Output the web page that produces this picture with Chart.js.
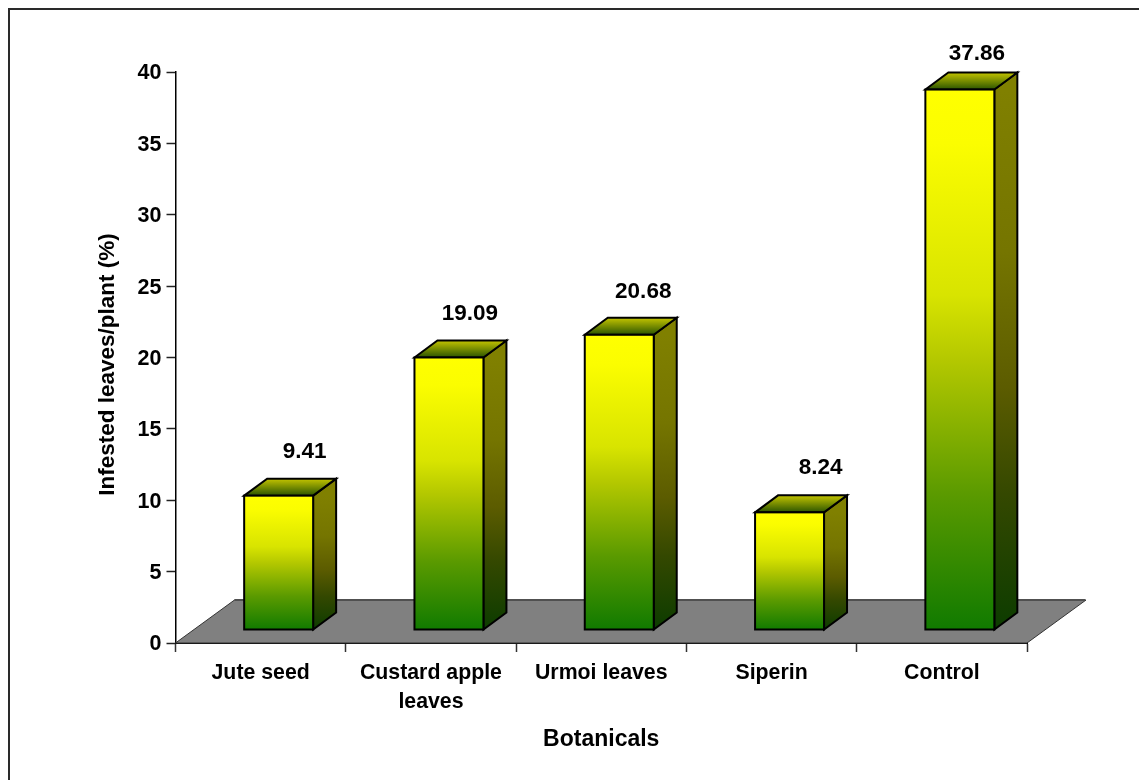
<!DOCTYPE html>
<html>
<head>
<meta charset="utf-8">
<title>Infested leaves</title>
<script src="https://cdn.jsdelivr.net/npm/chart.js@4/dist/chart.umd.min.js"></script>
<style>
    html, body { margin: 0; padding: 0; background: #fff; overflow: hidden; }
    #wrap { position: relative; width: 1139px; height: 780px; overflow: hidden; }
    #frame { position: absolute; left: 8px; top: 8px; width: 1200px; height: 900px; border: 2px solid #2a2a2a; }
    canvas { position: absolute; left: 0; top: 0; }
</style>
</head>
<body>
<div id="wrap">
    <div id="frame"></div>
    <canvas id="chart" width="1139" height="780"></canvas>
</div>
<script>
const categories = [['Jute seed'], ['Custard apple', 'leaves'], ['Urmoi leaves'], ['Siperin'], ['Control']];
const values = [9.41, 19.09, 20.68, 8.24, 37.86];
const yTicks = [0, 5, 10, 15, 20, 25, 30, 35, 40];

// hand-placed value labels sit a little off the bar centre
const labelShiftX = [26, 21, 24, 31, 17];
const labelShiftY = [-27, -27, -26, -28, -19];

const FONT = '"Liberation Sans", Arial, sans-serif';

// floor depth and bar depth of the fake 3D look
const floorDx = 59, floorDy = -43;
const barDx = 23, barDy = -17;
const frontDx = (floorDx - barDx) / 2;
const frontDy = (floorDy - barDy) / 2;

// gradient stops for each face of a box, top to bottom
const frontStops = [[0, '#ffff00'], [0.1, '#fbfd00'], [0.38, '#d8e400'], [0.5, '#b4c800'], [0.75, '#5a9a00'], [1, '#107a00']];
const sideStops = [[0, '#808000'], [0.3, '#757500'], [0.55, '#5c5c00'], [0.75, '#344800'], [1, '#0c3c00']];
const topStops = [[0, '#c4c400'], [1, '#2a5400']];

function vGradient(ctx, y0, y1, stops) {
    const g = ctx.createLinearGradient(0, y0, 0, y1);
    stops.forEach(s => g.addColorStop(s[0], s[1]));
    return g;
}

function frontFill(context) {
    const chart = context.chart;
    const yScale = chart.scales.y;
    if (!yScale || context.raw === undefined) return '#ffff00';
    const top = yScale.getPixelForValue(context.raw);
    const base = yScale.getPixelForValue(0);
    if (!isFinite(top) || !isFinite(base)) return '#ffff00';
    return vGradient(chart.ctx, top, base, frontStops);
}

const floorPlugin = {
    id: 'floor',
    beforeDatasetsDraw(chart) {
        const { ctx, chartArea: a } = chart;
        ctx.save();
        ctx.beginPath();
        ctx.moveTo(a.left, a.bottom);
        ctx.lineTo(a.left + floorDx, a.bottom + floorDy);
        ctx.lineTo(a.right + floorDx, a.bottom + floorDy);
        ctx.lineTo(a.right, a.bottom);
        ctx.closePath();
        ctx.fillStyle = '#808080';
        ctx.fill();
        ctx.strokeStyle = '#333';
        ctx.lineWidth = 1;
        ctx.stroke();
        ctx.beginPath();
        ctx.moveTo(a.left + floorDx, a.bottom + floorDy);
        ctx.lineTo(a.right + floorDx - 1, a.bottom + floorDy);
        ctx.strokeStyle = '#505050';
        ctx.lineWidth = 2;
        ctx.stroke();
        ctx.restore();
    }
};

const boxPlugin = {
    id: 'box',
    // bars are shifted onto the floor, side and top faces go in behind them
    beforeDatasetDraw(chart, args) {
        const ctx = chart.ctx;
        ctx.save();
        ctx.translate(frontDx, frontDy);
        ctx.lineJoin = 'miter';
        ctx.strokeStyle = '#000';
        ctx.lineWidth = 2;
        args.meta.data.forEach(bar => {
            const right = bar.x + bar.width / 2;
            const left = bar.x - bar.width / 2;

            ctx.beginPath();
            ctx.moveTo(right, bar.y);
            ctx.lineTo(right + barDx, bar.y + barDy);
            ctx.lineTo(right + barDx, bar.base + barDy);
            ctx.lineTo(right, bar.base);
            ctx.closePath();
            ctx.fillStyle = vGradient(ctx, bar.y, bar.base, sideStops);
            ctx.fill();
            ctx.stroke();

            ctx.beginPath();
            ctx.moveTo(left, bar.y);
            ctx.lineTo(left + barDx, bar.y + barDy);
            ctx.lineTo(right + barDx, bar.y + barDy);
            ctx.lineTo(right, bar.y);
            ctx.closePath();
            ctx.fillStyle = vGradient(ctx, bar.y + barDy, bar.y, topStops);
            ctx.fill();
            ctx.stroke();
        });
    },
    // outline the front on the bar edge, the library would inset it
    afterDatasetDraw(chart, args) {
        const ctx = chart.ctx;
        args.meta.data.forEach(bar => {
            ctx.strokeRect(bar.x - bar.width / 2, bar.y, bar.width, bar.base - bar.y);
        });
        ctx.restore();
    }
};

const textPlugin = {
    id: 'texts',
    afterDraw(chart) {
        const { ctx, chartArea: a } = chart;
        const bars = chart.getDatasetMeta(0).data;
        ctx.save();
        ctx.fillStyle = '#000';
        ctx.textAlign = 'center';
        ctx.textBaseline = 'middle';
        ctx.font = 'bold 22.5px ' + FONT;
        bars.forEach((bar, i) => {
            const topY = bar.y + frontDy + barDy;
            ctx.fillText(values[i].toFixed(2), bar.x + frontDx + labelShiftX[i], topY + labelShiftY[i]);
        });
        // y title sits a bit below the axis middle
        ctx.translate(108, (a.top + a.bottom) / 2 + 7);
        ctx.rotate(-Math.PI / 2);
        ctx.fillText('Infested leaves/plant (%)', 0, 0);
        ctx.restore();
    }
};

new Chart(document.getElementById('chart').getContext('2d'), {
    type: 'bar',
    data: {
        labels: categories,
        datasets: [{
            data: values,
            backgroundColor: frontFill,
            borderWidth: 0,
            barPercentage: 0.405,
            categoryPercentage: 1,
            clip: false
        }]
    },
    options: {
        responsive: false,
        animation: false,
        layout: { padding: { top: 72, right: 112, left: 0, bottom: 0 } },
        plugins: { legend: { display: false }, tooltip: { enabled: false } },
        scales: {
            x: {
                afterFit(scale) { scale.height = 137; },
                grid: { drawOnChartArea: false, color: '#333', tickLength: 9, tickWidth: 1.5 },
                border: { color: '#000', width: 2 },
                ticks: {
                    color: '#000',
                    font: { family: FONT, size: 21.3, weight: 'bold', lineHeight: 1.36 },
                    maxRotation: 0,
                    autoSkip: false,
                    padding: 7
                },
                title: {
                    display: true,
                    text: 'Botanicals',
                    color: '#000',
                    font: { family: FONT, size: 23, weight: 'bold' },
                    padding: { top: 16, bottom: 27 }
                }
            },
            y: {
                min: 0,
                max: 40,
                afterFit(scale) { scale.width = 175.5; },
                afterBuildTicks(scale) { scale.ticks = yTicks.map(value => ({ value })); },
                grid: { drawOnChartArea: false, color: '#222', tickLength: 9, tickWidth: 1.5 },
                border: { color: '#000', width: 1.5 },
                ticks: {
                    color: '#000',
                    font: { family: FONT, size: 21.5, weight: 'bold' },
                    padding: 5,
                    labelOffset: 1.5
                }
            }
        }
    },
    plugins: [floorPlugin, boxPlugin, textPlugin]
});
</script>
</body>
</html>
